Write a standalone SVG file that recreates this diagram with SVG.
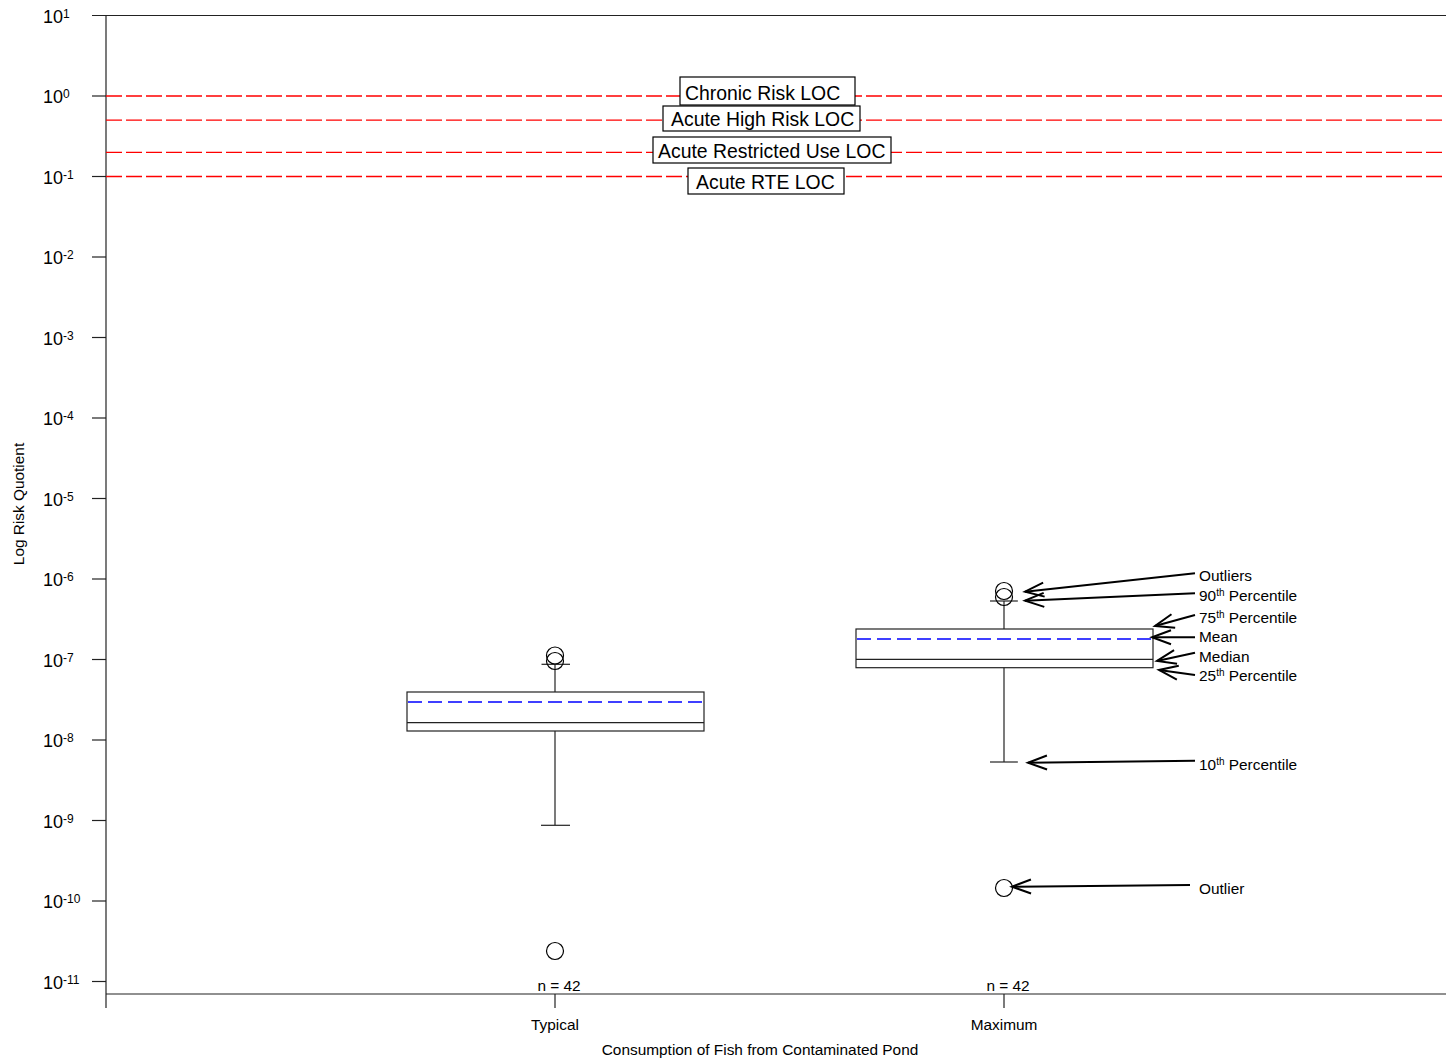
<svg xmlns="http://www.w3.org/2000/svg" width="1446" height="1063" viewBox="0 0 1446 1063">
<style>
text{font-family:"Liberation Sans",Arial,sans-serif;fill:#000}
.tick{font-size:18px}
.sup{font-size:12px}
.loc{font-size:19.4px}
.lbl{font-size:15.4px}
.sm{font-size:10px}
.ax{stroke:#222;stroke-width:1.2;fill:none}
.red{stroke:#ff0000;stroke-width:1.3;stroke-dasharray:16 4;fill:none}
.box{stroke:#222;stroke-width:1.2;fill:none}
.mean{stroke:#0000ff;stroke-width:1.3;stroke-dasharray:14 6;fill:none}
.pt{stroke:#000;stroke-width:1.2;fill:none}
.arr{stroke:#000;stroke-width:2;fill:none;marker-end:url(#ah)}
.locbox{fill:#fff;stroke:#000;stroke-width:1.2}
</style>
<defs>
<marker id="ah" markerUnits="userSpaceOnUse" markerWidth="24" markerHeight="18" refX="21" refY="9" orient="auto">
<path d="M2,2 L21,9 L2,16" fill="none" stroke="#000" stroke-width="2"/>
</marker>
</defs>
<g id="axes">
<line class="ax" x1="92" y1="15.5" x2="1446" y2="15.5"/>
<line class="ax" x1="106" y1="15.5" x2="106" y2="1008"/>
<line class="ax" x1="106" y1="994" x2="1446" y2="994"/>
<line class="ax" x1="92" y1="96" x2="106" y2="96"/>
<line class="ax" x1="92" y1="176.5" x2="106" y2="176.5"/>
<line class="ax" x1="92" y1="257" x2="106" y2="257"/>
<line class="ax" x1="92" y1="337.5" x2="106" y2="337.5"/>
<line class="ax" x1="92" y1="418" x2="106" y2="418"/>
<line class="ax" x1="92" y1="498.5" x2="106" y2="498.5"/>
<line class="ax" x1="92" y1="579" x2="106" y2="579"/>
<line class="ax" x1="92" y1="659.5" x2="106" y2="659.5"/>
<line class="ax" x1="92" y1="740" x2="106" y2="740"/>
<line class="ax" x1="92" y1="820.5" x2="106" y2="820.5"/>
<line class="ax" x1="92" y1="901" x2="106" y2="901"/>
<line class="ax" x1="92" y1="981.5" x2="106" y2="981.5"/>
<line class="ax" x1="555" y1="994" x2="555" y2="1008"/>
<line class="ax" x1="1004" y1="994" x2="1004" y2="1008"/>
<text class="tick" x="43" y="23">10<tspan class="sup" dy="-5">1</tspan></text>
<text class="tick" x="43" y="103">10<tspan class="sup" dy="-5">0</tspan></text>
<text class="tick" x="43" y="184">10<tspan class="sup" dy="-5">-1</tspan></text>
<text class="tick" x="43" y="264">10<tspan class="sup" dy="-5">-2</tspan></text>
<text class="tick" x="43" y="345">10<tspan class="sup" dy="-5">-3</tspan></text>
<text class="tick" x="43" y="425">10<tspan class="sup" dy="-5">-4</tspan></text>
<text class="tick" x="43" y="506">10<tspan class="sup" dy="-5">-5</tspan></text>
<text class="tick" x="43" y="586">10<tspan class="sup" dy="-5">-6</tspan></text>
<text class="tick" x="43" y="667">10<tspan class="sup" dy="-5">-7</tspan></text>
<text class="tick" x="43" y="747">10<tspan class="sup" dy="-5">-8</tspan></text>
<text class="tick" x="43" y="828">10<tspan class="sup" dy="-5">-9</tspan></text>
<text class="tick" x="43" y="908">10<tspan class="sup" dy="-5">-10</tspan></text>
<text class="tick" x="43" y="989">10<tspan class="sup" dy="-5">-11</tspan></text>
<text class="lbl" x="24" y="504" text-anchor="middle" transform="rotate(-90 24 504)">Log Risk Quotient</text>
<text class="lbl" x="555" y="1030" text-anchor="middle">Typical</text>
<text class="lbl" x="1004" y="1030" text-anchor="middle">Maximum</text>
<text class="lbl" x="760" y="1055" text-anchor="middle">Consumption of Fish from Contaminated Pond</text>
</g>
<g id="loc-lines">
<line class="red" x1="106" y1="96" x2="1446" y2="96"/>
<line class="red" x1="106" y1="120.2" x2="1446" y2="120.2"/>
<line class="red" x1="106" y1="152.3" x2="1446" y2="152.3"/>
<line class="red" x1="106" y1="176.5" x2="1446" y2="176.5"/>
</g>
<g id="loc-chronic">
<rect class="locbox" x="680" y="77" width="175" height="28"/>
<text class="loc" x="685" y="100">Chronic Risk LOC</text>
</g>
<g id="loc-acute-high">
<rect class="locbox" x="663" y="106" width="197" height="25"/>
<text class="loc" x="671" y="125.5">Acute High Risk LOC</text>
</g>
<g id="loc-acute-restricted">
<rect class="locbox" x="653" y="137" width="238" height="26"/>
<text class="loc" x="658" y="157.5">Acute Restricted Use LOC</text>
</g>
<g id="loc-acute-rte">
<rect class="locbox" x="688" y="168" width="156" height="26"/>
<text class="loc" x="696" y="188.5">Acute RTE LOC</text>
</g>
<g id="box-typical">
<line class="box" x1="555" y1="692" x2="555" y2="664.3"/>
<line class="box" x1="541.5" y1="664.3" x2="570" y2="664.3"/>
<line class="box" x1="555" y1="731" x2="555" y2="825.3"/>
<line class="box" x1="541" y1="825.3" x2="570" y2="825.3"/>
<rect class="box" x="407" y="692" width="297" height="39"/>
<line class="box" x1="407" y1="722.7" x2="704" y2="722.7"/>
<line class="mean" x1="408" y1="702" x2="703" y2="702"/>
<circle class="pt" cx="555" cy="655.5" r="8.5"/>
<circle class="pt" cx="555" cy="661" r="8.5"/>
<circle class="pt" cx="555" cy="951" r="8.5"/>
<text class="lbl" x="559" y="990.5" text-anchor="middle">n = 42</text>
</g>
<g id="box-maximum">
<line class="box" x1="1004" y1="629" x2="1004" y2="601"/>
<line class="box" x1="990" y1="601" x2="1018" y2="601"/>
<line class="box" x1="1004" y1="667.7" x2="1004" y2="762"/>
<line class="box" x1="990" y1="762" x2="1018" y2="762"/>
<rect class="box" x="856" y="629" width="297" height="38.7"/>
<line class="box" x1="856" y1="659.3" x2="1153" y2="659.3"/>
<line class="mean" x1="857" y1="639" x2="1152" y2="639"/>
<circle class="pt" cx="1004" cy="591" r="8.5"/>
<circle class="pt" cx="1004" cy="597" r="8.5"/>
<circle class="pt" cx="1004" cy="888" r="8.5"/>
<text class="lbl" x="1008" y="990.5" text-anchor="middle">n = 42</text>
</g>
<g id="connectors">
<line class="arr" x1="1195" y1="573.3" x2="1025" y2="591.7"/>
<line class="arr" x1="1195" y1="593.3" x2="1025" y2="600.7"/>
<line class="arr" x1="1195" y1="615" x2="1155" y2="626"/>
<line class="arr" x1="1195" y1="637.3" x2="1152" y2="637.3"/>
<line class="arr" x1="1195" y1="652.7" x2="1157" y2="661"/>
<line class="arr" x1="1195" y1="675" x2="1159" y2="670"/>
<line class="arr" x1="1195" y1="760.7" x2="1028" y2="762.7"/>
<line class="arr" x1="1190" y1="885" x2="1012" y2="886.7"/>
</g>
<g id="annotations">
<text class="lbl" x="1199" y="581">Outliers</text>
<text class="lbl" x="1199" y="601">90<tspan class="sm" dy="-5">th</tspan><tspan dy="5"> Percentile</tspan></text>
<text class="lbl" x="1199" y="623">75<tspan class="sm" dy="-5">th</tspan><tspan dy="5"> Percentile</tspan></text>
<text class="lbl" x="1199" y="641.5">Mean</text>
<text class="lbl" x="1199" y="661.5">Median</text>
<text class="lbl" x="1199" y="681">25<tspan class="sm" dy="-5">th</tspan><tspan dy="5"> Percentile</tspan></text>
<text class="lbl" x="1199" y="770">10<tspan class="sm" dy="-5">th</tspan><tspan dy="5"> Percentile</tspan></text>
<text class="lbl" x="1199" y="894">Outlier</text>
</g>
</svg>
